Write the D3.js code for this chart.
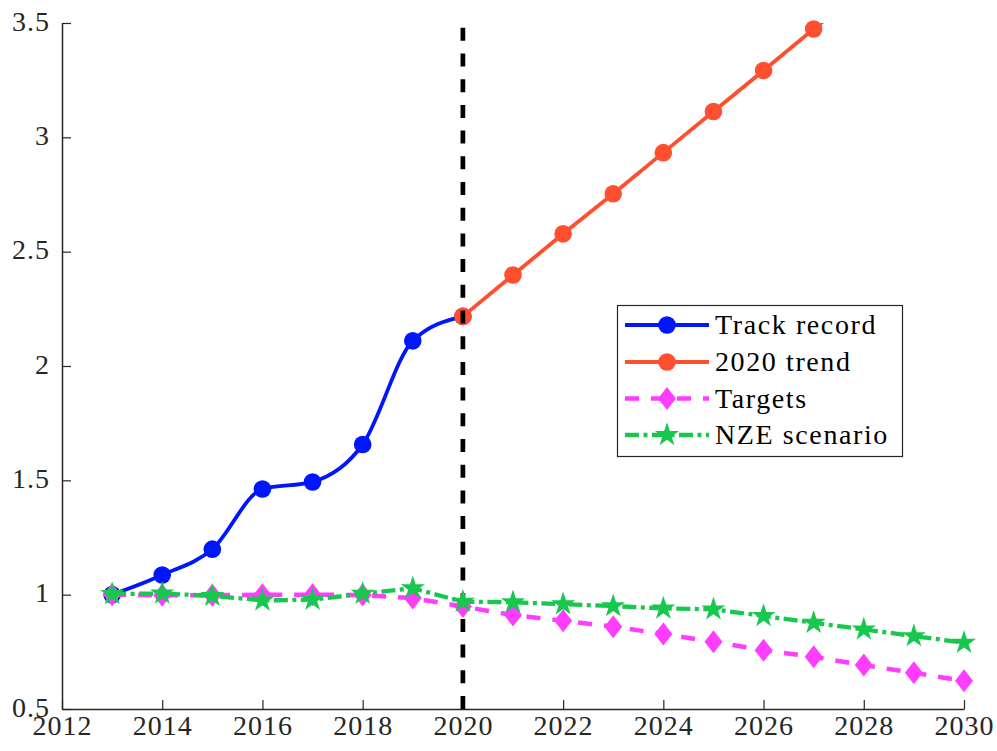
<!DOCTYPE html>
<html>
<head>
<meta charset="utf-8">
<script src="https://cdn.jsdelivr.net/npm/d3@7"></script>
<style>
  html, body { margin: 0; padding: 0; background: #fff; }
  svg { display: block; }
  svg text { font-family: 'Liberation Serif', 'DejaVu Serif', serif !important; }
</style>
</head>
<body>
<svg id="chart" width="997" height="751"></svg>
<script>
// ---- data ----
const trackYears  = [2013, 2014, 2015, 2016, 2017, 2018, 2019, 2020];
const trackValues = [1.0, 1.086, 1.199, 1.462, 1.493, 1.657, 2.110, 2.217];

const trendYears  = [2020, 2021, 2022, 2023, 2024, 2025, 2026, 2027, 2028];
const trendValues = [2.217, 2.398, 2.578, 2.753, 2.933, 3.113, 3.292, 3.474, 3.650];

const targetYears  = [2013, 2014, 2015, 2016, 2017, 2018, 2019, 2020, 2021, 2022, 2023, 2024, 2025, 2026, 2027, 2028, 2029, 2030];
const targetValues = [1.0, 0.997, 0.997, 1.0, 1.0, 0.998, 0.985, 0.948, 0.911, 0.886, 0.860, 0.828, 0.794, 0.757, 0.728, 0.692, 0.658, 0.623];

const nzeYears  = [2013, 2014, 2015, 2016, 2017, 2018, 2019, 2020, 2021, 2022, 2023, 2024, 2025, 2026, 2027, 2028, 2029, 2030];
const nzeValues = [1.003, 1.005, 0.995, 0.975, 0.978, 1.004, 1.028, 0.969, 0.967, 0.958, 0.950, 0.940, 0.936, 0.907, 0.877, 0.848, 0.819, 0.790];

const dividerYear = 2020;
const legendLabels = ["Track record", "2020 trend", "Targets", "NZE scenario"];

const xTicks = [2012, 2014, 2016, 2018, 2020, 2022, 2024, 2026, 2028, 2030];
const yTicks = [0.5, 1, 1.5, 2, 2.5, 3, 3.5];
const yTickLabels = ["0.5", "1", "1.5", "2", "2.5", "3", "3.5"];

// ---- layout ----
const svg = d3.select("#chart");
const padL = 62, padR = 964, padT = 23, padB = 709;
const x = d3.scaleLinear().domain([2012, 2030]).range([padL, padR]);
const y = d3.scaleLinear().domain([0.5, 3.5]).range([padB, padT]);
const FONT = "'Liberation Serif', 'DejaVu Serif', serif";

const colors = { track: "#0016ff", trend: "#ff4f2f", target: "#ff3dff", nze: "#18c84e" };

svg.append("defs").append("clipPath").attr("id", "plotclip")
  .append("rect").attr("x", padL).attr("y", padT).attr("width", padR - padL).attr("height", padB - padT);

function starPath(R) {
  const r = R * 0.382;
  const pts = [];
  for (let i = 0; i < 10; i++) {
    const rad = i % 2 === 0 ? R : r;
    const a = -Math.PI / 2 + i * Math.PI / 5;
    pts.push([rad * Math.cos(a), rad * Math.sin(a)]);
  }
  return "M" + pts.map(p => p[0].toFixed(2) + "," + p[1].toFixed(2)).join("L") + "Z";
}
const diamondPath = "M0,-11.5L9,0L0,11.5L-9,0Z";
const starD = starPath(12.7);

function zip(xs, ys) { return xs.map((d, i) => ({ x: d, y: ys[i] })); }
const track = zip(trackYears, trackValues);
const trend = zip(trendYears, trendValues);
const target = zip(targetYears, targetValues);
const nze = zip(nzeYears, nzeValues);

// ---- axes ----
const xAxis = d3.axisBottom(x).tickValues(xTicks).tickFormat(d3.format("d")).tickSizeInner(-9).tickSizeOuter(0);
const yAxis = d3.axisLeft(y).tickValues(yTicks).tickFormat((d, i) => yTickLabels[i]).tickSizeInner(-9).tickSizeOuter(0);

const gx = svg.append("g").attr("transform", `translate(0,${padB})`).call(xAxis);
const gy = svg.append("g").attr("transform", `translate(${padL},0)`).call(yAxis);
[gx, gy].forEach(g => {
  g.attr("font-family", FONT).attr("font-size", 28);
  g.select(".domain").attr("stroke", "#262626").attr("stroke-width", 1.5);
  g.selectAll(".tick line").attr("stroke", "#262626").attr("stroke-width", 1.2);
  g.selectAll(".tick text").style("font-family", FONT).style("font-size", "28px").attr("fill", "#262626")
    .style("letter-spacing", "1px");
});
gx.selectAll(".tick text").attr("y", 26).attr("dy", null);
gy.selectAll(".tick text").attr("x", -12).attr("dy", "7");

// ---- lines ----
const plot = svg.append("g");
const lineSmooth = d3.line().x(d => x(d.x)).y(d => y(d.y)).curve(d3.curveMonotoneX);
const lineStraight = d3.line().x(d => x(d.x)).y(d => y(d.y));

// track record
plot.append("path").datum(track).attr("d", lineSmooth).attr("fill", "none")
  .attr("stroke", colors.track).attr("stroke-width", 3.8).attr("clip-path", "url(#plotclip)");
plot.selectAll(".trackpt").data(track).enter().append("circle")
  .attr("cx", d => x(d.x)).attr("cy", d => y(d.y)).attr("r", 8.8).attr("fill", colors.track);

// trend
plot.append("path").datum(trend).attr("d", lineStraight).attr("fill", "none")
  .attr("stroke", colors.trend).attr("stroke-width", 3.8).attr("clip-path", "url(#plotclip)");
plot.selectAll(".trendpt").data(trend.filter(d => d.y <= 3.5)).enter().append("circle")
  .attr("cx", d => x(d.x)).attr("cy", d => y(d.y)).attr("r", 8.8).attr("fill", colors.trend);

// divider
plot.append("line").attr("x1", x(dividerYear)).attr("x2", x(dividerYear))
  .attr("y1", y(0.5)).attr("y2", y(3.5))
  .attr("stroke", "#000").attr("stroke-width", 4.7).attr("stroke-dasharray", "13,12.7");

// targets
plot.append("path").datum(target).attr("d", lineStraight).attr("fill", "none")
  .attr("stroke", colors.target).attr("stroke-width", 4.5).attr("stroke-dasharray", "14,12")
  .attr("clip-path", "url(#plotclip)");
plot.selectAll(".targetpt").data(target).enter().append("path")
  .attr("d", diamondPath).attr("transform", d => `translate(${x(d.x)},${y(d.y)})`).attr("fill", colors.target);

// NZE
plot.append("path").datum(nze).attr("d", lineStraight).attr("fill", "none")
  .attr("stroke", colors.nze).attr("stroke-width", 4.3).attr("stroke-dasharray", "14,4.5,4,4.5")
  .attr("clip-path", "url(#plotclip)");
plot.selectAll(".nzept").data(nze).enter().append("path")
  .attr("d", starD).attr("transform", d => `translate(${x(d.x)},${y(d.y)})`).attr("fill", colors.nze);

// ---- legend ----
const lg = svg.append("g");
lg.append("rect").attr("x", 617.5).attr("y", 305.5).attr("width", 285).attr("height", 151)
  .attr("fill", "#fff").attr("stroke", "#262626").attr("stroke-width", 1.2);
const rowY = [325, 362, 398.5, 435];
const styles = [
  { c: colors.track, w: 3.8, dash: null, m: "circle" },
  { c: colors.trend, w: 3.8, dash: null, m: "circle" },
  { c: colors.target, w: 4.5, dash: "14,12", m: "diamond" },
  { c: colors.nze, w: 4.3, dash: "14,4.5,4,4.5", m: "star" }
];
legendLabels.forEach((lab, i) => {
  const s = styles[i], cy = rowY[i];
  const ln = lg.append("line").attr("x1", 625).attr("x2", 709).attr("y1", cy).attr("y2", cy)
    .attr("stroke", s.c).attr("stroke-width", s.w);
  if (s.dash) ln.attr("stroke-dasharray", s.dash);
  if (s.m === "circle") lg.append("circle").attr("cx", 667).attr("cy", cy).attr("r", 8.8).attr("fill", s.c);
  else if (s.m === "diamond") lg.append("path").attr("d", diamondPath).attr("transform", `translate(667,${cy})`).attr("fill", s.c);
  else lg.append("path").attr("d", starD).attr("transform", `translate(667,${cy})`).attr("fill", s.c);
  lg.append("text").attr("x", 715).attr("y", cy + 9)
    .style("font-family", FONT).style("font-size", "28px")
    .style("letter-spacing", "1.6px").attr("fill", "#000").text(lab);
});
</script>
</body>
</html>
